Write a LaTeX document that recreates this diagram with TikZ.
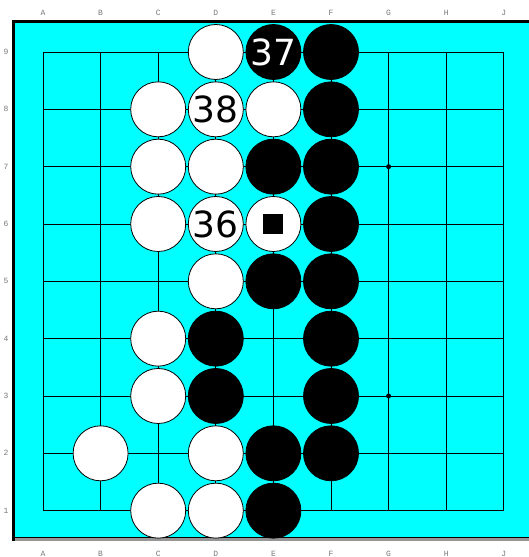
\documentclass[tikz,border=0pt]{standalone}
\usepackage{fontspec}
\newfontfamily\stonefont{DejaVu Sans}
\newfontfamily\labfont{Liberation Mono}
\definecolor{boardcyan}{RGB}{0,255,255}
\definecolor{labgray}{RGB}{120,120,120}
\definecolor{edgegray}{RGB}{150,150,150}
\begin{document}
\begin{tikzpicture}[x=1pt,y=-1pt,
  gridline/.style={line width=0.9pt,black},
  wstone/.style={circle,draw=black,line width=0.8pt,fill=white,minimum size=55pt,inner sep=0pt,text=black,font=\stonefont\fontsize{36}{36}\selectfont},
  bstone/.style={circle,draw=black,line width=0.8pt,fill=black,minimum size=55pt,inner sep=0pt,text=white,font=\stonefont\fontsize{36}{36}\selectfont},
  coordlab/.style={text=labgray,font=\labfont\fontsize{8}{8}\selectfont,inner sep=0pt},
  hoshi/.style={circle,fill=black,minimum size=5pt,inner sep=0pt},
  sqmark/.style={rectangle,fill=black,minimum size=20pt,inner sep=0pt}]
\useasboundingbox (0,0) rectangle (529,557);
% board
\fill[white] (0,0) rectangle (529,557);
\fill[boardcyan] (12,20) rectangle (529,538);
\fill[edgegray] (12,538) rectangle (529,541);
\draw[line width=1pt,black] (14,537.5) -- (529,537.5);
\fill[black] (12,20) rectangle (529,23);
\fill[black] (11.5,20) rectangle (15,541);
% grid
\foreach \i in {0,...,8} {
  \draw[gridline] ({43+57.6*\i},52) -- ({43+57.6*\i},510.7);
  \draw[gridline] (43,{52+57.33*\i}) -- (503.8,{52+57.33*\i});
}
% coordinate labels
\foreach \l [count=\i from 0] in {A,B,C,D,E,F,G,H,J} {
  \node[coordlab] (top\l) at ({43+57.6*\i},13) {\l};
  \node[coordlab] (bot\l) at ({43+57.6*\i},554) {\l};
}
\foreach \r in {1,...,9} {
  \node[coordlab] (row\r) at (6,{52+57.33*(9-\r)}) {\r};
}
% hoshi
\node[hoshi] (g7) at ({43+57.6*6},{52+57.33*2}) {};
\node[hoshi] (g3) at ({43+57.6*6},{52+57.33*6}) {};
% stones: column index c (A=0), row r
\newcommand{\stonepos}[2]{({43+57.6*#1},{52+57.33*(9-#2)})}
% row 9
\node[wstone] (D9) at \stonepos{3}{9} {};
\node[bstone] (E9) at \stonepos{4}{9} {37};
\node[bstone] (F9) at \stonepos{5}{9} {};
% row 8
\node[wstone] (C8) at \stonepos{2}{8} {};
\node[wstone] (D8) at \stonepos{3}{8} {38};
\node[wstone] (E8) at \stonepos{4}{8} {};
\node[bstone] (F8) at \stonepos{5}{8} {};
% row 7
\node[wstone] (C7) at \stonepos{2}{7} {};
\node[wstone] (D7) at \stonepos{3}{7} {};
\node[bstone] (E7) at \stonepos{4}{7} {};
\node[bstone] (F7) at \stonepos{5}{7} {};
% row 6
\node[wstone] (C6) at \stonepos{2}{6} {};
\node[wstone] (D6) at \stonepos{3}{6} {36};
\node[wstone] (E6) at \stonepos{4}{6} {};
\node[sqmark] (E6m) at (E6.center) {};
\node[bstone] (F6) at \stonepos{5}{6} {};
% row 5
\node[wstone] (D5) at \stonepos{3}{5} {};
\node[bstone] (E5) at \stonepos{4}{5} {};
\node[bstone] (F5) at \stonepos{5}{5} {};
% row 4
\node[wstone] (C4) at \stonepos{2}{4} {};
\node[bstone] (D4) at \stonepos{3}{4} {};
\node[bstone] (F4) at \stonepos{5}{4} {};
% row 3
\node[wstone] (C3) at \stonepos{2}{3} {};
\node[bstone] (D3) at \stonepos{3}{3} {};
\node[bstone] (F3) at \stonepos{5}{3} {};
% row 2
\node[wstone] (B2) at \stonepos{1}{2} {};
\node[wstone] (D2) at \stonepos{3}{2} {};
\node[bstone] (E2) at \stonepos{4}{2} {};
\node[bstone] (F2) at \stonepos{5}{2} {};
% row 1
\node[wstone] (C1) at \stonepos{2}{1} {};
\node[wstone] (D1) at \stonepos{3}{1} {};
\node[bstone] (E1) at \stonepos{4}{1} {};
\end{tikzpicture}
\end{document}
